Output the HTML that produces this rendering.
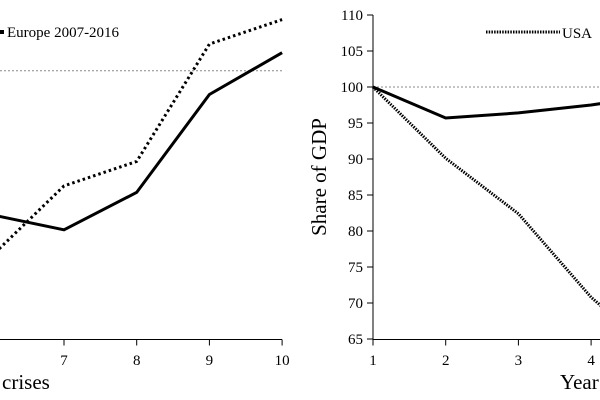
<!DOCTYPE html>
<html><head><meta charset="utf-8"><style>
html,body{margin:0;padding:0;background:#fff;}
svg{display:block;font-family:"Liberation Serif",serif;}
</style></head><body>
<svg id="c" width="600" height="400" viewBox="0 0 600 400"></svg>
<script>
// Left panel data
const leftYears = [6, 7, 8, 9, 10];
const leftSolid = [80.0, 77.9, 83.1, 96.7, 102.5];
const leftEurope = [74.2, 84.0, 87.4, 103.7, 107.1];
const leftTicks = [7, 8, 9, 10];
// Right panel data
const rightYears = [1, 2, 3, 4, 5];
const rightSolid = [100, 95.7, 96.4, 97.5, 99];
const rightUSA = [100, 90.1, 82.4, 70.8, 62];
const rightXTicks = [1, 2, 3, 4];
const rightYTicks = [65, 70, 75, 80, 85, 90, 95, 100, 105, 110];

const NS = "http://www.w3.org/2000/svg";
const svg = document.getElementById('c');
function mk(tag, attrs, name, parent) {
  const e = document.createElementNS(NS, tag);
  for (const k in attrs) e.setAttribute(k, attrs[k]);
  
  
  (parent || svg).appendChild(e);
  return e;
}
const lx = v => 64 + (v - 7) * 72.7;
const ly = v => 70.7 + (100 - v) * 7.2;
const rx = v => 373 + (v - 1) * 72.7;
const ry = v => 87 + (100 - v) * 7.2;
const axisY = 339.5;

// ---- left panel ----
const lg = mk('g', {}, 'left-panel');
mk('line', {x1:0, x2:282, y1:ly(100), y2:ly(100), stroke:'#888', 'stroke-width':1, 'stroke-dasharray':'2,2'}, 'reference-line-100', lg);
mk('line', {x1:0, x2:282, y1:axisY, y2:axisY, stroke:'#000', 'stroke-width':1}, 'x-axis', lg);
leftTicks.forEach(t => {
  mk('line', {x1:lx(t), x2:lx(t), y1:axisY, y2:axisY+6, stroke:'#000'}, 'x-tick', lg);
  const tx = mk('text', {x:lx(t), y:365, 'text-anchor':'middle', 'font-size':15}, 'x-tick-label', lg);
  tx.textContent = t;
});
mk('polyline', {points: leftYears.map((y,i)=>lx(y)+','+ly(leftSolid[i])).join(' '), fill:'none', stroke:'#000', 'stroke-width':3}, 'solid-series-line', lg);
mk('polyline', {points: leftYears.map((y,i)=>lx(y)+','+ly(leftEurope[i])).join(' '), fill:'none', stroke:'#000', 'stroke-width':3, 'stroke-dasharray':'2.5,3'}, 'europe-series-line', lg);
mk('rect', {x:0, y:30, width:4, height:4, fill:'#000'}, 'europe-legend-marker', lg);
const lt = mk('text', {x:7, y:37, 'font-size':15}, 'europe-legend-label', lg);
lt.textContent = 'Europe 2007-2016';
const xl = mk('text', {x:2, y:389, 'font-size':21}, 'x-axis-title-left', lg);
xl.textContent = 'crises';

// ---- right panel ----
const rg = mk('g', {}, 'right-panel');
mk('line', {x1:373, x2:600, y1:ry(100), y2:ry(100), stroke:'#888', 'stroke-width':1, 'stroke-dasharray':'2,2'}, 'reference-line-100', rg);
mk('line', {x1:373, x2:600, y1:axisY, y2:axisY, stroke:'#000'}, 'x-axis', rg);
mk('line', {x1:373, x2:373, y1:ry(110), y2:axisY, stroke:'#000'}, 'y-axis', rg);
rightYTicks.forEach(t => {
  mk('line', {x1:367, x2:373, y1:ry(t), y2:ry(t), stroke:'#000'}, 'y-tick', rg);
  const tx = mk('text', {x:363, y:ry(t)+5, 'text-anchor':'end', 'font-size':15}, 'y-tick-label', rg);
  tx.textContent = t;
});
rightXTicks.forEach(t => {
  mk('line', {x1:rx(t), x2:rx(t), y1:axisY, y2:axisY+6, stroke:'#000'}, 'x-tick', rg);
  const tx = mk('text', {x:rx(t), y:365, 'text-anchor':'middle', 'font-size':15}, 'x-tick-label', rg);
  tx.textContent = t;
});
mk('polyline', {points: rightYears.map((y,i)=>rx(y)+','+ry(rightSolid[i])).join(' '), fill:'none', stroke:'#000', 'stroke-width':3}, 'solid-series-line', rg);
mk('polyline', {points: rightYears.map((y,i)=>rx(y)+','+ry(rightUSA[i])).join(' '), fill:'none', stroke:'#000', 'stroke-width':3, 'stroke-dasharray':'1.5,1.2'}, 'usa-series-line', rg);
mk('line', {x1:486, x2:560, y1:32, y2:32, stroke:'#000', 'stroke-width':3, 'stroke-dasharray':'1.5,1.2'}, 'usa-legend-marker', rg);
const ut = mk('text', {x:562, y:38, 'font-size':15}, 'usa-legend-label', rg);
ut.textContent = 'USA';
const yt = mk('text', {x:0, y:0, 'font-size':21, 'text-anchor':'middle', transform:'translate(326,177) rotate(-90)'}, 'y-axis-title', rg);
yt.textContent = 'Share of GDP';
const xr = mk('text', {x:560, y:389, 'font-size':21}, 'x-axis-title-right', rg);
xr.textContent = 'Year';
</script>
</body></html>
